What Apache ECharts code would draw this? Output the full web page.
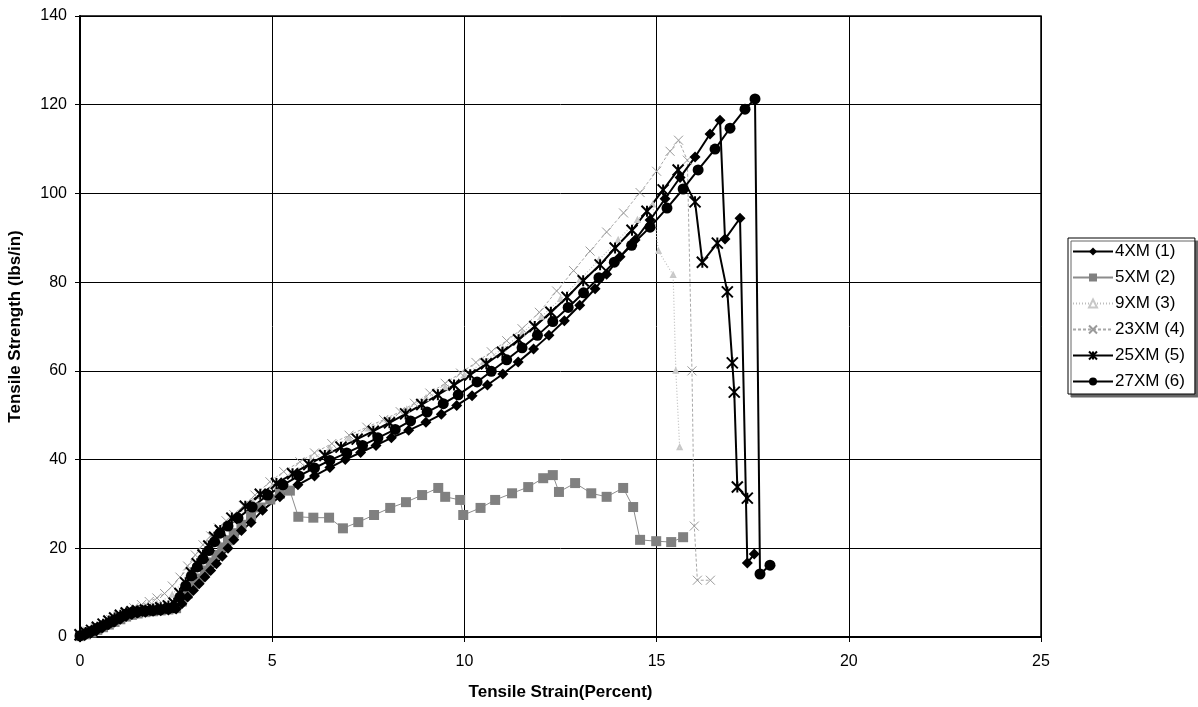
<!DOCTYPE html>
<html>
<head>
<meta charset="utf-8">
<script src="https://cdn.jsdelivr.net/npm/echarts@6/dist/echarts.min.js"></script>
<style>
  html, body { margin: 0; padding: 0; background: #fff; }
  #main { width: 1198px; height: 707px; }
</style>
</head>
<body>
<div id="main"></div>
<script>
// series names (legend order)
var seriesNames = ["4XM (1)", "5XM (2)", "9XM (3)", "23XM (4)", "25XM (5)", "27XM (6)"];

// axis ticks
var xTicks = [0, 5, 10, 15, 20, 25];
var yTicks = [0, 20, 40, 60, 80, 100, 120, 140];

// [strain %, strength lbs/in]
var xm4 = [[0,0],[0.15,0.5],[0.3,1],[0.45,1.6],[0.6,2.2],[0.75,2.8],[0.9,3.4],[1.05,4],[1.2,4.6],[1.35,5.1],[1.5,5.4],[1.7,5.6],[1.9,5.8],[2.1,5.9],[2.3,6.1],[2.5,6.3],[2.65,7.5],[2.8,9],[2.95,10.5],[3.1,12],[3.25,13.5],[3.4,15],[3.55,16.5],[3.7,18.2],[3.85,20],[4.0,21.9],[4.2,24],[4.45,25.8],[4.75,28.6],[5.2,31.6],[5.67,34.3],[6.1,36.3],[6.5,38.2],[6.9,40],[7.3,41.6],[7.7,43.2],[8.1,44.9],[8.55,46.6],[9.0,48.4],[9.4,50.2],[9.8,52.2],[10.2,54.4],[10.6,56.8],[11.0,59.3],[11.4,62],[11.8,64.9],[12.2,68],[12.6,71.3],[13.0,74.8],[13.4,78.5],[13.7,81.8],[14.05,85.7],[14.44,89.5],[14.83,94],[15.22,98.8],[15.61,103.6],[16.0,108.2],[16.39,113.4],[16.65,116.5],[16.78,89.7],[17.17,94.4],[17.36,16.7],[17.54,18.7]];

var xm5 = [[0,0.2],[0.15,0.6],[0.3,1],[0.45,1.6],[0.6,2.2],[0.75,2.8],[0.9,3.4],[1.05,4],[1.2,4.6],[1.35,5],[1.5,5.3],[1.7,5.6],[1.9,5.8],[2.1,6],[2.3,6.2],[2.5,6.5],[2.65,8],[2.8,9.8],[2.95,11.5],[3.1,13.2],[3.25,15],[3.4,16.8],[3.55,18.5],[3.7,20.2],[3.85,21.8],[4.0,23.4],[4.2,25.3],[4.45,27.3],[4.7,29.2],[4.95,31],[5.2,32.3],[5.46,33],[5.68,27.1],[6.07,26.9],[6.48,26.9],[6.84,24.5],[7.24,25.9],[7.65,27.5],[8.07,29.1],[8.48,30.4],[8.9,32],[9.32,33.6],[9.5,31.6],[9.89,30.9],[9.97,27.5],[10.42,29.1],[10.8,30.9],[11.24,32.4],[11.66,33.8],[12.05,35.8],[12.3,36.5],[12.46,32.7],[12.88,34.7],[13.3,32.4],[13.7,31.6],[14.13,33.6],[14.39,29.3],[14.57,21.9],[14.99,21.6],[15.38,21.4],[15.69,22.5]];

var xm9 = [[0,0],[0.4,1.6],[0.8,3.3],[1.2,5],[1.6,6.5],[2.0,7.5],[2.4,9.5],[2.8,14],[3.2,19],[3.6,23],[4.0,26.5],[4.5,30.5],[5.0,34],[5.5,37],[6.0,40],[6.5,42.5],[7.0,44.8],[7.5,47],[8.0,49],[8.5,51.3],[9.0,53.8],[9.5,56.3],[10.0,59],[10.5,62],[11.0,65],[11.5,68.5],[12.0,72.2],[12.5,76.2],[13.0,80.5],[13.5,85],[14.0,89.5],[14.5,94],[14.9,97.5],[15.05,87],[15.43,81.6],[15.5,60],[15.6,42.8]];

var xm23 = [[0,0.5],[0.2,1.3],[0.4,2.1],[0.6,3],[0.8,3.9],[1.0,4.8],[1.2,5.7],[1.4,6.6],[1.6,7.3],[1.8,8],[2.0,8.8],[2.2,9.8],[2.4,11.5],[2.6,13.5],[2.8,16],[3.0,18.5],[3.2,20.8],[3.4,22.8],[3.6,24.6],[3.8,26.2],[4.0,27.6],[4.25,29.6],[4.55,32],[4.94,35],[5.3,37.3],[5.72,39.5],[6.1,41.5],[6.55,43.6],[7.0,45.5],[7.46,47.3],[7.9,49],[8.33,50.8],[8.7,52.7],[9.1,55],[9.5,57.2],[9.9,59.5],[10.3,61.9],[10.7,64.3],[11.1,66.8],[11.5,69.5],[11.95,73.2],[12.4,78],[12.84,82.6],[13.27,87],[13.7,91.3],[14.14,95.6],[14.57,100.2],[15.0,105],[15.35,109.5],[15.57,112],[15.8,107.5],[15.92,60],[15.98,25],[16.06,12.8],[16.4,12.8]];

var xm25 = [[0,0.5],[0.15,1],[0.3,1.5],[0.45,2.2],[0.6,2.9],[0.75,3.6],[0.9,4.3],[1.05,4.9],[1.2,5.4],[1.35,5.7],[1.5,5.9],[1.7,6.1],[1.9,6.3],[2.1,6.6],[2.3,7],[2.45,7.6],[2.6,9.8],[2.75,12.2],[2.9,14.5],[3.05,16.5],[3.2,18.5],[3.35,20.5],[3.5,22.5],[3.65,24],[3.95,26.8],[4.3,29.5],[4.69,32.2],[5.11,34.6],[5.53,36.8],[5.95,38.9],[6.37,40.9],[6.79,42.8],[7.21,44.6],[7.63,46.4],[8.05,48.3],[8.47,50.3],[8.89,52.4],[9.31,54.6],[9.73,56.8],[10.15,59.1],[10.57,61.6],[10.99,64.2],[11.41,67],[11.83,70],[12.25,73.2],[12.67,76.6],[13.09,80.3],[13.53,83.9],[13.92,87.7],[14.36,91.7],[14.75,96],[15.17,100.8],[15.56,105.3],[16.0,98.1],[16.19,84.5],[16.58,88.8],[16.84,77.8],[16.97,61.8],[17.02,55.2],[17.1,33.8],[17.36,31.3]];

var xm27 = [[0,0.3],[0.15,0.8],[0.3,1.3],[0.45,2],[0.6,2.6],[0.75,3.2],[0.9,3.9],[1.05,4.5],[1.2,5.2],[1.35,5.5],[1.5,5.7],[1.7,5.9],[1.9,6],[2.1,6.2],[2.3,6.4],[2.45,6.6],[2.6,9],[2.75,11.5],[2.9,13.8],[3.05,15.8],[3.2,17.6],[3.35,19.5],[3.5,21.5],[3.64,23.4],[3.85,25],[4.11,26.8],[4.48,29.3],[4.89,32],[5.28,34.3],[5.7,36.3],[6.1,38.1],[6.5,39.8],[6.94,41.5],[7.35,43.2],[7.75,44.9],[8.2,46.8],[8.6,48.7],[9.03,50.7],[9.45,52.6],[9.84,54.6],[10.33,57.5],[10.7,59.9],[11.1,62.5],[11.5,65.2],[11.9,68],[12.3,71.1],[12.7,74.3],[13.1,77.6],[13.5,81],[13.9,84.5],[14.35,88.3],[14.83,92.4],[15.27,96.7],[15.69,101],[16.08,105.3],[16.52,110],[16.91,114.7],[17.3,119],[17.56,121.3],[17.69,14.2],[17.95,16.2]];

var font = "'Liberation Sans', Arial, Helvetica, sans-serif";

var myChart = echarts.init(document.getElementById("main"));

var option = {
  animation: false,
  backgroundColor: "#fff",
  textStyle: { fontFamily: font, color: "#000" },
  grid: {
    left: 80, right: 157, top: 16, bottom: 70,
    outerBoundsMode: "none",
    show: true, borderColor: "#000", borderWidth: 1.5
  },
  legend: {
    orient: "vertical",
    left: 1068, top: 238,
    data: seriesNames,
    itemWidth: 40, itemHeight: 10, itemGap: 9,
    padding: [5, 10, 4, 4],
    borderColor: "#000", borderWidth: 1,
    backgroundColor: "#fff",
    shadowColor: "#666", shadowOffsetX: 3, shadowOffsetY: 3, shadowBlur: 0,
    textStyle: { fontFamily: font, fontSize: 17, color: "#000", lineHeight: 17, padding: [0, 0, 0, -3] }
  },
  xAxis: {
    type: "value",
    min: xTicks[0], max: xTicks[xTicks.length - 1], interval: 5,
    name: "Tensile Strain(Percent)",
    nameLocation: "middle", nameGap: 47,
    nameTextStyle: { fontFamily: font, fontSize: 17, fontWeight: "bold", color: "#000" },
    axisLine: { lineStyle: { color: "#000", width: 2 } },
    axisTick: { show: true, length: 5, lineStyle: { color: "#000" } },
    axisLabel: { fontFamily: font, fontSize: 16, color: "#000", margin: 17 },
    splitLine: { show: true, lineStyle: { color: "#000", width: 1 } }
  },
  yAxis: {
    type: "value",
    min: yTicks[0], max: yTicks[yTicks.length - 1], interval: 20,
    name: "Tensile Strength (lbs/in)",
    nameLocation: "middle", nameGap: 56, nameRotate: 90,
    nameTextStyle: { fontFamily: font, fontSize: 17, fontWeight: "bold", color: "#000" },
    axisLine: { show: true, lineStyle: { color: "#000", width: 2 } },
    axisTick: { show: true, length: 5, lineStyle: { color: "#000" } },
    axisLabel: { fontFamily: font, fontSize: 16, color: "#000", margin: 13 },
    splitLine: { show: true, lineStyle: { color: "#000", width: 1 } }
  },
  series: [
    {
      name: seriesNames[1], type: "line", data: xm5,
      symbol: "rect", symbolSize: 10,
      itemStyle: { color: "#808080" },
      lineStyle: { color: "#8c8c8c", width: 1 }
    },
    {
      name: seriesNames[2], type: "line", data: xm9,
      symbol: "emptyTriangle", symbolSize: 4,
      itemStyle: { color: "#c8c8c8", borderColor: "#c8c8c8", borderWidth: 1 },
      lineStyle: { color: "#bdbdbd", width: 1.2, type: [1, 2] }
    },
    {
      name: seriesNames[3], type: "line", data: xm23,
      symbol: "path://M0,0L10,10M10,0L0,10", symbolSize: 9,
      itemStyle: { color: "rgba(0,0,0,0)", borderColor: "#9a9a9a", borderWidth: 1 },
      lineStyle: { color: "#a8a8a8", width: 1, type: [3, 2] }
    },
    {
      name: seriesNames[0], type: "line", data: xm4,
      symbol: "diamond", symbolSize: 11,
      itemStyle: { color: "#000" },
      lineStyle: { color: "#000", width: 2 }
    },
    {
      name: seriesNames[4], type: "line", data: xm25,
      symbol: "path://M0,0L10,10M10,0L0,10M5,0L5,10", symbolSize: 11,
      itemStyle: { color: "rgba(0,0,0,0)", borderColor: "#000", borderWidth: 2 },
      lineStyle: { color: "#000", width: 2 }
    },
    {
      name: seriesNames[5], type: "line", data: xm27,
      symbol: "circle", symbolSize: 11,
      itemStyle: { color: "#000" },
      lineStyle: { color: "#000", width: 2 }
    }
  ]
};

myChart.setOption(option);
</script>
</body>
</html>
